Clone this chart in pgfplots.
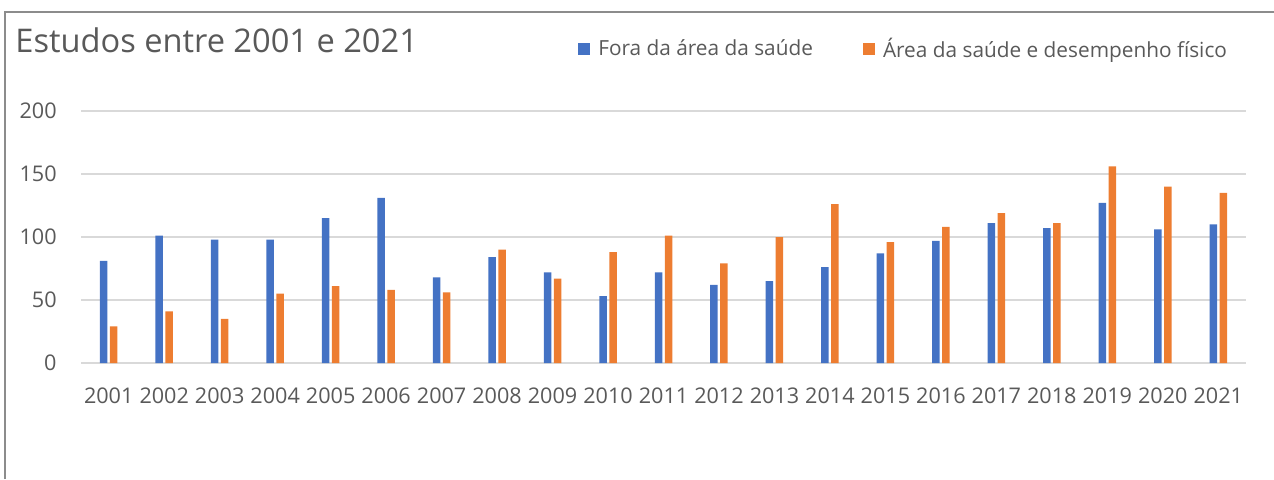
\documentclass[border=0pt]{standalone}
\usepackage{fontspec}
\setmainfont{Open Sans}
\usepackage{pgfplots}
\pgfplotsset{compat=1.18}
\definecolor{cblue}{HTML}{4472C4}
\definecolor{corange}{HTML}{ED7D31}
\definecolor{tgray}{HTML}{595959}
\definecolor{ggray}{HTML}{D9D9D9}
\definecolor{bgray}{HTML}{8C8C8C}
\begin{document}
\begin{tikzpicture}
\path[use as bounding box] (0,0) rectangle (637pt,239.5pt);
\draw[bgray, line width=0.6pt] (2.5pt,0) -- (2.5pt,233.5pt) -- (637pt,233.5pt);
\node[anchor=base west, inner sep=0pt, font=\fontsize{16.3}{19}\selectfont, text=tgray] at (7.5pt,213.5pt) {Estudos entre 2001 e 2021};
\begin{axis}[
  at={(40.5pt,58pt)}, anchor=south west,
  scale only axis, width=582.5pt, height=126pt,
  ymin=0, ymax=200, xmin=-0.5, xmax=20.5,
  ytick={0,50,100,150,200},
  xtick={0,...,20},
  xticklabels={2001,2002,2003,2004,2005,2006,2007,2008,2009,2010,2011,2012,2013,2014,2015,2016,2017,2018,2019,2020,2021},
  axis line style={draw=none},
  major tick length=0pt,
  ymajorgrids, grid style={ggray, line width=0.75pt},
  ybar=1.25pt, bar width=3.75pt,
  /pgf/number format/assume math mode=true,
  ticklabel style={font=\fontsize{10.8}{12}\selectfont, text=tgray, inner sep=0pt},
  yticklabel style={anchor=east, xshift=-12pt},
  xticklabel style={anchor=north, yshift=-12pt},
  legend columns=2,
  legend style={at={(axis description cs:0.4265,1.246)}, anchor=west, draw=none, fill=none, inner sep=0pt,
    font=\fontsize{10.4}{12}\selectfont, text=tgray,
    nodes={inner sep=0pt},
    /tikz/every odd column/.append style={column sep=4pt},
    /tikz/every even column/.append style={column sep=25pt}},
  legend image code/.code={\fill[#1] (0pt,-3pt) rectangle (6pt,3pt);},
]
\addplot[fill=cblue, draw=none] coordinates {(0,81) (1,101) (2,98) (3,98) (4,115) (5,131) (6,68) (7,84) (8,72) (9,53) (10,72) (11,62) (12,65) (13,76) (14,87) (15,97) (16,111) (17,107) (18,127) (19,106) (20,110)};
\addplot[fill=corange, draw=none] coordinates {(0,29) (1,41) (2,35) (3,55) (4,61) (5,58) (6,56) (7,90) (8,67) (9,88) (10,101) (11,79) (12,100) (13,126) (14,96) (15,108) (16,119) (17,111) (18,156) (19,140) (20,135)};
\legend{Fora da área da saúde, Área da saúde e desempenho físico}
\end{axis}
\end{tikzpicture}
\end{document}
